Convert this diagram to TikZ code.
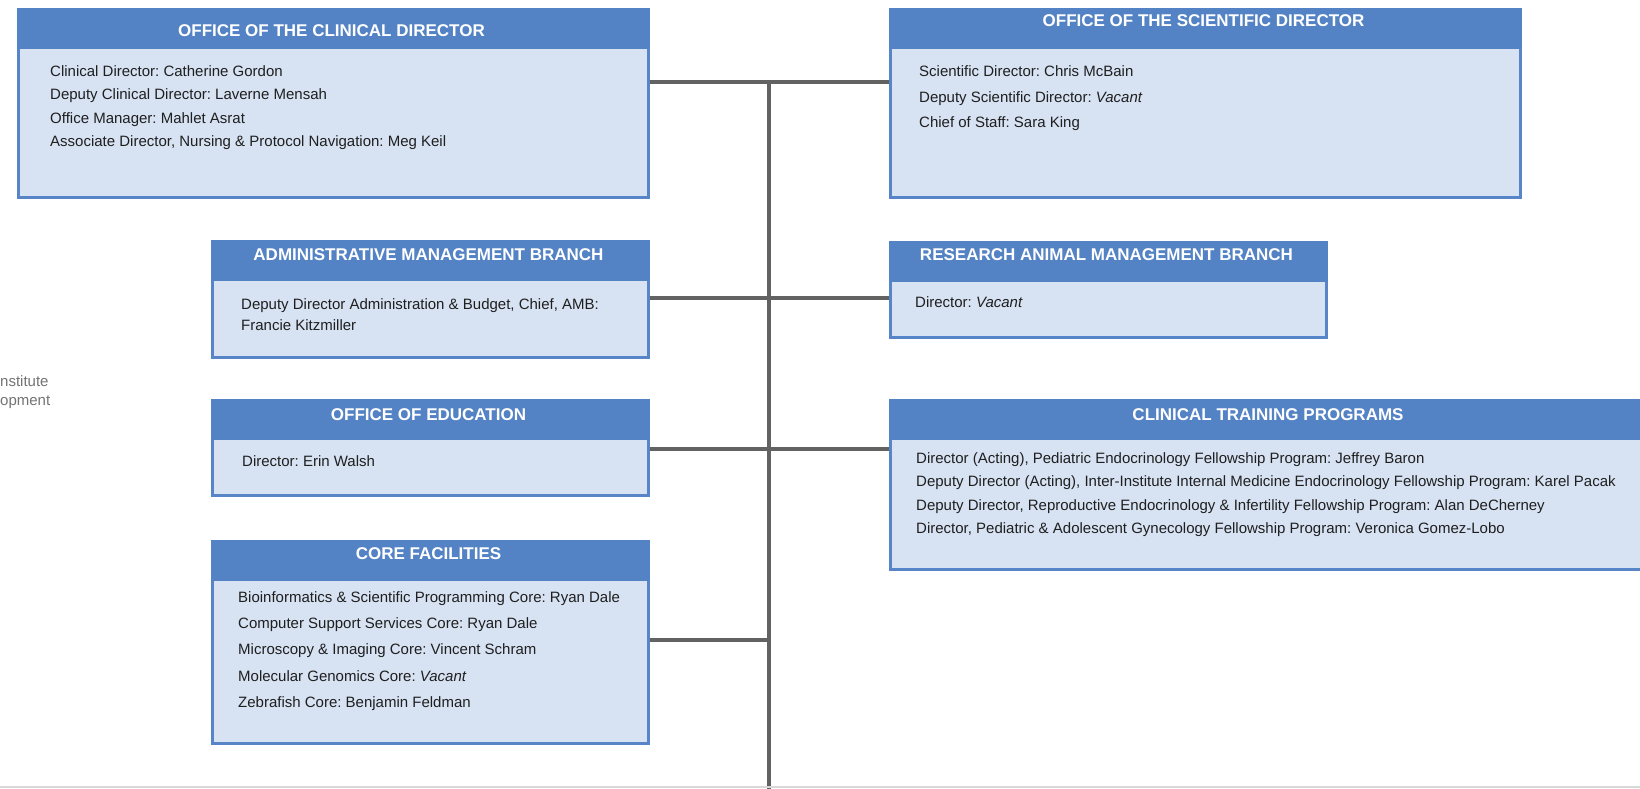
\documentclass[tikz,border=0pt]{standalone}
\usepackage{fontspec}
\setmainfont{Liberation Sans}
\frenchspacing

\definecolor{hdrblue}{RGB}{84,131,197}
\definecolor{bodyblue}{RGB}{215,226,243}
\definecolor{frameblue}{RGB}{88,133,199}
\definecolor{linegray}{RGB}{98,98,98}
\definecolor{sidegray}{RGB}{115,115,115}

\begin{document}
\begin{tikzpicture}[x=1pt, y=-1pt,
        orgbox/.style={draw=frameblue, fill=bodyblue, line width=3pt, inner sep=0pt, anchor=north west},
        orghead/.style={fill=hdrblue, inner sep=0pt, outer sep=0pt, anchor=north west, minimum height=41pt},
        orgtitle/.style={text=white, inner sep=0pt, font=\fontsize{17}{20}\selectfont\bfseries},
        orgtext/.style={text=black!88, align=left, inner sep=0pt, anchor=north west},
        conn/.style={draw=linegray, line width=4.5pt}]
        \useasboundingbox (0,0) rectangle (1640,788);
        %\draw[step=100pt,gray,very thin] (0,0) grid (1640,788);

        % Office of the Clinical Director
        \node[orgbox, minimum width=630pt, minimum height=188pt] (cd) at (16.5,7.5) {};
        \node[orghead, minimum width=633pt] (cdh) at (cd.north west) {};
        \node[orgtitle] (cdt) at (331.5,31) {OFFICE OF THE CLINICAL DIRECTOR};
        \node[orgtext, font=\fontsize{15}{23.3}\selectfont] (cdx) at (50,65.5) {Clinical Director: Catherine Gordon\\
            Deputy Clinical Director: Laverne Mensah\\
            Office Manager: Mahlet Asrat\\
            Associate Director, Nursing \& Protocol Navigation: Meg Keil};

        % Office of the Scientific Director
        \node[orgbox, minimum width=630pt, minimum height=188pt] (sd) at (888.5,7.5) {};
        \node[orghead, minimum width=633pt] (sdh) at (sd.north west) {};
        \node[orgtitle] (sdt) at (1203.5,21) {OFFICE OF THE SCIENTIFIC DIRECTOR};
        \node[orgtext, font=\fontsize{15}{25.5}\selectfont] (sdx) at (919,65.5) {Scientific Director: Chris McBain\\
            Deputy Scientific Director: \textit{Vacant}\\
            Chief of Staff: Sara King};

        % Administrative Management Branch
        \node[orgbox, minimum width=436pt, minimum height=116pt] (amb) at (210.5,239.5) {};
        \node[orghead, minimum width=439pt] (ambh) at (amb.north west) {};
        \node[orgtitle] (ambt) at (428.5,255) {ADMINISTRATIVE MANAGEMENT BRANCH};
        \node[orgtext, font=\fontsize{15}{20.5}\selectfont] (ambx) at (241,298.5) {Deputy Director Administration \& Budget, Chief, AMB:\\
            Francie Kitzmiller};

        % Research Animal Management Branch
        \node[orgbox, minimum width=436pt, minimum height=95pt] (ramb) at (888.5,240.5) {};
        \node[orghead, minimum width=439pt] (rambh) at (ramb.north west) {};
        \node[orgtitle] (rambt) at (1106.5,255) {RESEARCH ANIMAL MANAGEMENT BRANCH};
        \node[orgtext, font=\fontsize{15}{20}\selectfont] (rambx) at (915,296.5) {Director: \textit{Vacant}};

        % Office of Education
        \node[orgbox, minimum width=436pt, minimum height=95pt] (oe) at (210.5,398.5) {};
        \node[orghead, minimum width=439pt] (oeh) at (oe.north west) {};
        \node[orgtitle] (oet) at (428.5,415) {OFFICE OF EDUCATION};
        \node[orgtext, font=\fontsize{15}{20}\selectfont] (oex) at (242,455.5) {Director: Erin Walsh};

        % Clinical Training Programs (runs off the page)
        \node[orgbox, minimum width=771.5pt, minimum height=169pt] (ctp) at (888.5,398.5) {};
        \node[orghead, minimum width=774.5pt] (ctph) at (ctp.north west) {};
        \node[orgtitle] (ctpt) at (1268,415) {CLINICAL TRAINING PROGRAMS};
        \node[orgtext, font=\fontsize{15}{23.3}\selectfont] (ctpx) at (916,452.5) {Director (Acting), Pediatric Endocrinology Fellowship Program: Jeffrey Baron\\
            Deputy Director (Acting), Inter-Institute Internal Medicine Endocrinology Fellowship Program: Karel Pacak\\
            Deputy Director, Reproductive Endocrinology \& Infertility Fellowship Program: Alan DeCherney\\
            Director, Pediatric \& Adolescent Gynecology Fellowship Program: Veronica Gomez-Lobo};

        % Core Facilities
        \node[orgbox, minimum width=436pt, minimum height=202pt] (core) at (210.5,539.5) {};
        \node[orghead, minimum width=439pt] (coreh) at (core.north west) {};
        \node[orgtitle] (coret) at (428.5,554) {CORE FACILITIES};
        \node[orgtext, font=\fontsize{15}{26.2}\selectfont] (corex) at (238,591.5) {Bioinformatics \& Scientific Programming Core: Ryan Dale\\
            Computer Support Services Core: Ryan Dale\\
            Microscopy \& Imaging Core: Vincent Schram\\
            Molecular Genomics Core: \textit{Vacant}\\
            Zebrafish Core: Benjamin Feldman};

        % Cut-off text at the left edge
        \node[text=sidegray, inner sep=0pt, anchor=base west, font=\fontsize{15}{18}\selectfont] (side1) at (0,386.5) {nstitute};
        \node[text=sidegray, inner sep=0pt, anchor=base west, font=\fontsize{15}{18}\selectfont] (side2) at (0,405.5) {opment};

        % Connectors
        \coordinate (spinetop) at (769,82);
        \coordinate (spinebot) at (769,790);
        \coordinate (jamb) at (769,298);
        \coordinate (joe) at (769,449);
        \coordinate (jcore) at (769,640);
        \draw[conn] (spinetop) -- (spinebot);
        \draw[conn] (cd.east |- spinetop) -- (sd.west |- spinetop);
        \draw[conn] (amb.east |- jamb) -- (ramb.west |- jamb);
        \draw[conn] (oe.east |- joe) -- (ctp.west |- joe);
        \draw[conn] (core.east |- jcore) -- (jcore);

        % Bottom rule
        \draw[black!15, line width=1.5pt] (0,787) -- (1640,787);

\end{tikzpicture}
\end{document}
